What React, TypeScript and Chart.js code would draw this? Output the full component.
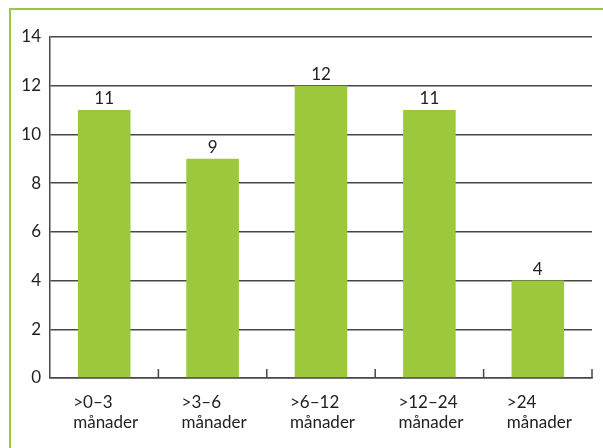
import React, { useEffect, useRef } from "react";
import { Chart, registerables } from "chart.js";

Chart.register(...registerables);

const categories: string[][] = [
  [">0–3", "månader"],
  [">3–6", "månader"],
  [">6–12", "månader"],
  [">12–24", "månader"],
  [">24", "månader"],
];
const values: number[] = [11, 9, 12, 11, 4];
const yTicks: number[] = [0, 2, 4, 6, 8, 10, 12, 14];

const GREEN = "#9bc93b";
const LINE = "#474747";
const FONT = "Lato, 'DejaVu Sans', sans-serif";

export default function App() {
  const ref = useRef<HTMLCanvasElement | null>(null);

  useEffect(() => {
    if (!ref.current) return;
    const framePlugin = {
      id: "frame",
      beforeDraw(chart: any) {
        const ctx = chart.ctx;
        ctx.save();
        ctx.fillStyle = "#ffffff";
        ctx.fillRect(0, 0, chart.width, chart.height);
        ctx.strokeStyle = GREEN;
        ctx.lineWidth = 2;
        ctx.beginPath();
        ctx.moveTo(10, chart.height + 5);
        ctx.lineTo(10, 9);
        ctx.lineTo(chart.width + 5, 9);
        ctx.stroke();
        ctx.restore();
      },
      afterDatasetsDraw(chart: any) {
        const ctx = chart.ctx;
        const xs = chart.scales.x;
        const area = chart.chartArea;
        ctx.save();
        ctx.strokeStyle = LINE;
        ctx.lineWidth = 1.5;
        const n = categories.length;
        for (let i = 1; i <= n; i++) {
          const x = xs.getPixelForValue(i - 0.5);
          ctx.beginPath();
          ctx.moveTo(x, area.bottom);
          ctx.lineTo(x, area.bottom - 9);
          ctx.stroke();
        }
        const meta = chart.getDatasetMeta(0);
        ctx.fillStyle = "#222";
        ctx.font = `17px ${FONT}`;
        ctx.textAlign = "center";
        ctx.textBaseline = "bottom";
        meta.data.forEach((bar: any, i: number) => {
          ctx.fillText(String(values[i]), bar.x, bar.y - 3);
        });
        ctx.restore();
      },
    };

    const chart = new Chart(ref.current, {
      type: "bar",
      data: {
        labels: categories,
        datasets: [
          {
            data: values,
            backgroundColor: GREEN,
            borderWidth: 0,
            barPercentage: 0.485,
            categoryPercentage: 1,
          },
        ],
      },
      options: {
        animation: false,
        responsive: false,
        maintainAspectRatio: false,
        layout: { padding: { left: 0, right: 11, top: 37, bottom: 0 } },
        plugins: {
          legend: { display: false },
          tooltip: { enabled: false },
        },
        scales: {
          x: {
            offset: true,
            grid: { display: false, drawTicks: false },
            border: { display: true, color: LINE, width: 1.5 },
            ticks: {
              color: "#222",
              font: { family: FONT, size: 17, lineHeight: 1.18 },
              align: "start",
              labelOffset: -31,
              padding: 14,
              maxRotation: 0,
              autoSkip: false,
            },
            afterFit(scale: any) {
              scale.height = 70;
              scale.paddingLeft = 0;
              scale.paddingRight = 0;
            },
          },
          y: {
            min: 0,
            max: 14,
            afterBuildTicks(scale: any) {
              scale.ticks = yTicks.map((v) => ({ value: v }));
            },
            grid: { color: LINE, lineWidth: 1.5, drawTicks: false },
            border: { display: true, color: LINE, width: 1.5 },
            ticks: {
              color: "#222",
              font: { family: FONT, size: 17 },
              padding: 9,
            },
            afterFit(scale: any) {
              scale.width = 50;
            },
          },
        },
      },
      plugins: [framePlugin],
    });
    return () => chart.destroy();
  }, []);

  return (
    <div style={{ position: "fixed", left: 0, top: 0, width: 603, height: 448 }}>
      <canvas ref={ref} width={603} height={448} style={{ display: "block" }} />
    </div>
  );
}
